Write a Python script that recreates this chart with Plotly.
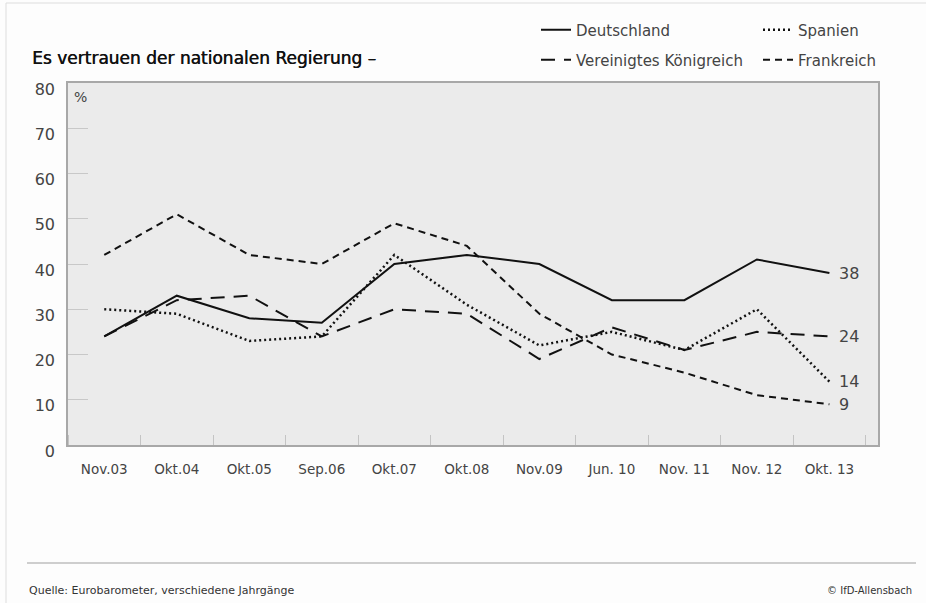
import plotly.graph_objects as go

categories = ["Nov.03", "Okt.04", "Okt.05", "Sep.06", "Okt.07", "Okt.08",
              "Nov.09", "Jun. 10", "Nov. 11", "Nov. 12", "Okt. 13"]
deutschland = [24, 33, 28, 27, 40, 42, 40, 32, 32, 41, 38]
spanien = [30, 29, 23, 24, 42, 31, 22, 25, 21, 30, 14]
vk = [24, 32, 33, 24, 30, 29, 19, 26, 21, 25, 24]
frankreich = [42, 51, 42, 40, 49, 44, 29, 20, 16, 11, 9]
y_ticks = [0, 10, 20, 30, 40, 50, 60, 70, 80]

FONT = "DejaVu Sans"
TXT = "#444444"

W, H = 926, 603
L, R, T, B = 68, 878, 83, 445


def px_x(p):
    return (p - L) / (R - L)


def px_y(p):
    return (B - p) / (B - T)


xs = list(range(len(categories)))

fig = go.Figure()
series = [
    ("Deutschland", deutschland, dict(color="#111111", width=2, dash="solid"), "legend"),
    ("Spanien", spanien, dict(color="#111111", width=2.5, dash="2px,3px"), "legend"),
    ("Vereinigtes Königreich", vk, dict(color="#111111", width=2, dash="14px,9px"), "legend2"),
    ("Frankreich", frankreich, dict(color="#111111", width=2, dash="7px,5px"), "legend2"),
]
for name, vals, line, lg in series:
    fig.add_trace(go.Scatter(x=xs, y=vals, mode="lines", name=name, line=line,
                             legend=lg, hoverinfo="skip"))

# end labels
for vals in [deutschland, vk, spanien, frankreich]:
    fig.add_annotation(x=xs[-1], y=vals[-1], text=str(vals[-1]), showarrow=False,
                       xanchor="left", yanchor="middle", xshift=8,
                       font=dict(family=FONT, size=16, color=TXT))

fig.add_annotation(xref="paper", yref="paper", x=px_x(72), y=px_y(97), text="%",
                   showarrow=False, xanchor="left", yanchor="middle",
                   font=dict(family=FONT, size=14, color=TXT))
fig.add_annotation(xref="paper", yref="paper", x=px_x(30), y=px_y(58),
                   text="Es vertrauen der nationalen Regierung –", showarrow=False,
                   xanchor="left", yanchor="middle",
                   font=dict(family=FONT, size=17, color="#111111",
                             shadow="0.5px 0px 0px #111111"))
fig.add_annotation(xref="paper", yref="paper", x=px_x(27), y=px_y(590),
                   text="Quelle: Eurobarometer, verschiedene Jahrgänge", showarrow=False,
                   xanchor="left", yanchor="middle",
                   font=dict(family=FONT, size=11, color="#333333"))
fig.add_annotation(xref="paper", yref="paper", x=px_x(914), y=px_y(590),
                   text="© IfD-Allensbach", showarrow=False,
                   xanchor="right", yanchor="middle",
                   font=dict(family=FONT, size=10, color="#333333"))

# frame lines
fig.add_shape(type="line", xref="paper", yref="paper", x0=px_x(27), x1=px_x(916),
              y0=px_y(563), y1=px_y(563), line=dict(color="#a0a0a0", width=1.2))
fig.add_shape(type="line", xref="paper", yref="paper", x0=px_x(6), x1=px_x(926),
              y0=px_y(3), y1=px_y(3), line=dict(color="#dddddd", width=1))
fig.add_shape(type="line", xref="paper", yref="paper", x0=px_x(6), x1=px_x(6),
              y0=px_y(3), y1=px_y(603), line=dict(color="#dddddd", width=1))

fig.update_layout(
    width=W, height=H, autosize=False,
    margin=dict(l=L, r=W - R, t=T, b=H - B, pad=0, autoexpand=False),
    paper_bgcolor="#fdfdfd", plot_bgcolor="#ebebeb",
    font=dict(family=FONT, color=TXT),
    showlegend=True,
    legend=dict(orientation="h", x=px_x(536), y=px_y(30), xanchor="left", yanchor="middle",
                entrywidth=177, bgcolor="rgba(0,0,0,0)",
                font=dict(family=FONT, size=15, color=TXT)),
    legend2=dict(orientation="h", x=px_x(536), y=px_y(60), xanchor="left", yanchor="middle",
                 entrywidth=177, bgcolor="rgba(0,0,0,0)",
                 font=dict(family=FONT, size=15, color=TXT)),
    xaxis=dict(range=[-0.5, 10.67], tickvals=xs, ticktext=categories, ticks="",
               showgrid=False, zeroline=False, showline=True, mirror=True,
               linecolor="#a8a8a8", linewidth=1.5,
               tickfont=dict(family=FONT, size=13.5, color=TXT), ticklabelstandoff=11,
               minor=dict(tick0=0.5, dtick=1, ticks="inside", ticklen=10,
                          tickcolor="#c4c4c4", tickwidth=1, showgrid=False)),
    yaxis=dict(range=[0, 80], tickvals=y_ticks, ticks="inside", ticklen=20,
               tickcolor="#c8c8c8", tickwidth=1, showgrid=False, zeroline=False,
               showline=True, mirror=True, linecolor="#a8a8a8", linewidth=1.5,
               tickfont=dict(family=FONT, size=16, color=TXT),
               ticklabelstandoff=8, ticklabelshift=6),
)

fig.write_html("out.html")
